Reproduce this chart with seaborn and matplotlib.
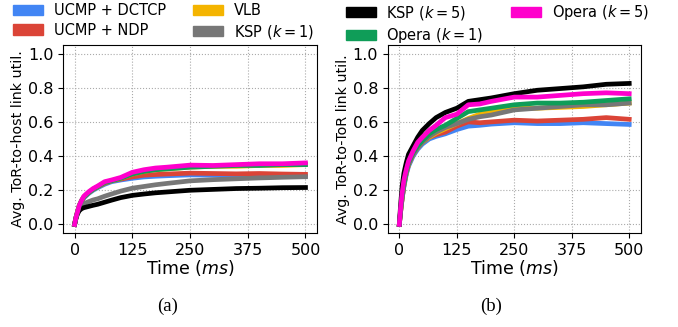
import matplotlib
matplotlib.use("Agg")
import matplotlib.pyplot as plt
from matplotlib.patches import Patch
import seaborn as sns
import pandas as pd

# time samples (ms)
t = [0, 3, 6, 10, 15, 20, 30, 40, 50, 65, 80, 100, 125, 150, 175, 200, 250, 300, 350, 400, 450, 500]

schemes = ["UCMP + DCTCP", "UCMP + NDP", "VLB", r"KSP ($k=1$)",
           r"KSP ($k=5$)", r"Opera ($k=1$)", r"Opera ($k=5$)"]
colors = ["#4285F4", "#DB4437", "#F4B400", "#777777", "#000000", "#0F9D58", "#FF00CC"]

# (a) ToR-to-host utilisation
host_dctcp = [0, 0.04, 0.07, 0.10, 0.13, 0.155, 0.18, 0.20, 0.215, 0.235, 0.25, 0.26, 0.27, 0.278, 0.282, 0.285, 0.29, 0.288, 0.285, 0.285, 0.283, 0.283]
host_ndp = [0, 0.04, 0.07, 0.105, 0.135, 0.16, 0.185, 0.205, 0.22, 0.24, 0.255, 0.265, 0.278, 0.288, 0.292, 0.295, 0.30, 0.298, 0.296, 0.298, 0.295, 0.293]
host_vlb = [0, 0.04, 0.07, 0.11, 0.14, 0.16, 0.185, 0.205, 0.22, 0.245, 0.255, 0.27, 0.295, 0.31, 0.32, 0.325, 0.335, 0.34, 0.34, 0.345, 0.345, 0.35]
host_ksp1 = [0, 0.04, 0.065, 0.09, 0.11, 0.12, 0.133, 0.143, 0.15, 0.165, 0.178, 0.195, 0.212, 0.222, 0.232, 0.24, 0.255, 0.262, 0.267, 0.272, 0.276, 0.279]
host_ksp5 = [0, 0.035, 0.06, 0.08, 0.092, 0.098, 0.105, 0.112, 0.118, 0.13, 0.142, 0.157, 0.17, 0.178, 0.185, 0.19, 0.20, 0.205, 0.21, 0.212, 0.215, 0.216]
host_opera1 = [0, 0.04, 0.07, 0.11, 0.14, 0.16, 0.185, 0.205, 0.22, 0.245, 0.255, 0.27, 0.295, 0.31, 0.32, 0.325, 0.335, 0.34, 0.345, 0.345, 0.35, 0.35]
host_opera5 = [0, 0.04, 0.07, 0.11, 0.14, 0.165, 0.19, 0.21, 0.225, 0.25, 0.26, 0.275, 0.305, 0.32, 0.33, 0.335, 0.347, 0.345, 0.35, 0.355, 0.355, 0.36]

# (b) ToR-to-ToR utilisation
tor_dctcp = [0, 0.08, 0.15, 0.22, 0.29, 0.34, 0.40, 0.44, 0.47, 0.50, 0.515, 0.53, 0.555, 0.575, 0.58, 0.587, 0.595, 0.59, 0.59, 0.595, 0.59, 0.585]
tor_ndp = [0, 0.08, 0.15, 0.23, 0.30, 0.35, 0.41, 0.45, 0.48, 0.51, 0.525, 0.54, 0.575, 0.60, 0.595, 0.60, 0.61, 0.605, 0.61, 0.615, 0.625, 0.615]
tor_vlb = [0, 0.08, 0.15, 0.23, 0.30, 0.35, 0.41, 0.45, 0.48, 0.51, 0.535, 0.56, 0.59, 0.62, 0.645, 0.66, 0.68, 0.68, 0.685, 0.69, 0.70, 0.71]
tor_ksp1 = [0, 0.08, 0.15, 0.23, 0.30, 0.35, 0.41, 0.45, 0.48, 0.515, 0.54, 0.567, 0.59, 0.615, 0.63, 0.64, 0.67, 0.68, 0.69, 0.70, 0.70, 0.71]
tor_ksp5 = [0, 0.12, 0.22, 0.30, 0.36, 0.41, 0.46, 0.51, 0.55, 0.59, 0.625, 0.655, 0.68, 0.72, 0.73, 0.74, 0.765, 0.785, 0.795, 0.805, 0.82, 0.825]
tor_opera1 = [0, 0.09, 0.16, 0.24, 0.31, 0.36, 0.42, 0.46, 0.49, 0.53, 0.555, 0.58, 0.62, 0.66, 0.67, 0.68, 0.70, 0.71, 0.71, 0.715, 0.725, 0.735]
tor_opera5 = [0, 0.10, 0.18, 0.26, 0.32, 0.37, 0.43, 0.48, 0.51, 0.55, 0.58, 0.625, 0.645, 0.70, 0.705, 0.72, 0.745, 0.745, 0.755, 0.765, 0.77, 0.765]

host = [host_dctcp, host_ndp, host_vlb, host_ksp1, host_ksp5, host_opera1, host_opera5]
tor = [tor_dctcp, tor_ndp, tor_vlb, tor_ksp1, tor_ksp5, tor_opera1, tor_opera5]


def to_long(series):
    rows = []
    for name, vals in zip(schemes, series):
        for ti, v in zip(t, vals):
            rows.append({"time": ti, "util": v, "scheme": name})
    return pd.DataFrame(rows)


palette = dict(zip(schemes, colors))

fig = plt.figure(figsize=(6.78, 3.27), dpi=100)
ax1 = fig.add_axes([0.093, 0.2875, 0.3746, 0.575])
ax2 = fig.add_axes([0.572, 0.2875, 0.373, 0.575])

for ax, series, ylab in [(ax1, host, "Avg. ToR-to-host link util."),
                         (ax2, tor, "Avg. ToR-to-ToR link util.")]:
    df = to_long(series)
    sns.lineplot(data=df, x="time", y="util", hue="scheme", hue_order=schemes,
                 palette=palette, linewidth=3.4, legend=False, ax=ax)
    ax.set_ylim(-0.05, 1.05)
    ax.set_xlim(-25, 525)
    ax.set_xticks([0, 125, 250, 375, 500])
    ax.set_yticks([0.0, 0.2, 0.4, 0.6, 0.8, 1.0])
    ax.tick_params(labelsize=11.5)
    ax.grid(True, linestyle=":", color="#aaaaaa", linewidth=0.8)
    ax.set_axisbelow(True)
    ax.set_xlabel("Time ($ms$)", fontsize=12.5, labelpad=0)
    ax.set_ylabel(ylab, fontsize=10.3, labelpad=2)

handles = [Patch(color=c, label=s) for s, c in zip(schemes, colors)]
leg_kw = dict(ncol=2, frameon=False, fontsize=10.5, handlelength=2.05, handleheight=0.7,
              handletextpad=0.75, columnspacing=1.9, labelspacing=0.31, borderpad=0,
              loc="upper left", bbox_transform=fig.transFigure)
fig.legend(handles=handles[:4], bbox_to_anchor=(0.008, 1.013), **leg_kw)
fig.legend(handles=handles[4:], bbox_to_anchor=(0.499, 1.013), **leg_kw)

fig.text(0.247, 0.064, "(a)", family="Liberation Serif", fontsize=13.5, ha="center", va="center")
fig.text(0.724, 0.064, "(b)", family="Liberation Serif", fontsize=13.5, ha="center", va="center")

fig.savefig("out.png", dpi=100)
